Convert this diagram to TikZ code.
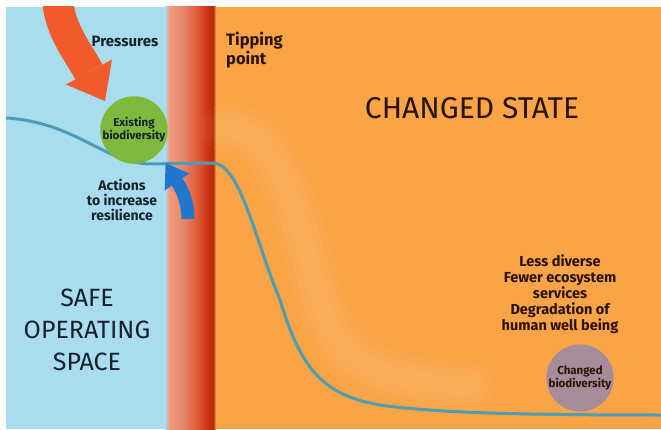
\documentclass[tikz,border=0pt]{standalone}
\usepackage{fontspec}
\setmainfont{Fira Sans}
\definecolor{skyb}{HTML}{A9DCEF}
\definecolor{orng}{HTML}{F9A446}
\definecolor{salA}{HTML}{F29A80}
\definecolor{salB}{HTML}{E5896C}
\definecolor{redA}{HTML}{E35A3A}
\definecolor{redB}{HTML}{C9330F}
\definecolor{redC}{HTML}{B82A06}
\definecolor{curvec}{HTML}{4E9DB5}
\definecolor{press}{HTML}{F15A2B}
\definecolor{actb}{HTML}{1F78CC}
\definecolor{greenc}{HTML}{7DB93C}
\definecolor{mauve}{HTML}{A88B9B}
\definecolor{inkb}{HTML}{16222C}
\definecolor{inko}{HTML}{2A1204}
\tikzset{
  lbl/.style={inner sep=0pt, align=center, font=\bfseries\fontsize{14}{15}\selectfont},
  biglbl/.style={inner sep=0pt, align=center},
  state/.style={circle, inner sep=0pt, minimum size=66pt, align=center,
     font=\bfseries\fontsize{11.5}{13}\selectfont},
  ghost/.style={white, opacity=0.035, line cap=round},
}
\begin{document}
\begin{tikzpicture}[x=1pt,y=-1pt]
\useasboundingbox (0,0) rectangle (661,430);
\fill[white] (0,0) rectangle (661,430);
\begin{scope}
\clip (6,7) rectangle (661,429);
% backgrounds
\fill[skyb] (6,7) rectangle (166,429);
\fill[orng] (215,7) rectangle (661,429);
\shade[left color=skyb, right color=salA] (165,7) rectangle (169,429);
\shade[left color=salA, right color=salB] (169,7) rectangle (182,429);
\shade[left color=salB, right color=redA] (182,7) rectangle (197,429);
\shade[left color=redA, right color=redB] (197,7) rectangle (208,429);
\shade[left color=redB, right color=redC] (208,7) rectangle (213,429);
\shade[left color=redC, right color=orng] (213,7) rectangle (216,429);
% faint ghost band
\foreach \w in {48,34,20}{
\draw[ghost, line width=\w pt]
  (225,128) .. controls (280,125) and (300,230) .. (320,300)
  .. controls (335,350) and (360,382) .. (470,386);
}
% curve
\draw[curvec, line width=3pt]
  (6,118) .. controls (75,122) and (105,163) .. (150,164) -- (212,163)
  .. controls (240,162) and (255,240) .. (280,300)
  .. controls (300,365) and (320,395) .. (380,405)
  .. controls (430,412) and (500,415) .. (661,415);
% pressures arrow
\coordinate (pstart) at (58,2);
\coordinate (pbase) at (89,72);
\draw[press, line width=31pt] (pstart) .. controls (60,30) and (78,52) .. (pbase);
\fill[press] (112,59.5) -- (66,84.5) -- (105,101) -- cycle;
% existing biodiversity
\node[state, fill=greenc, text=inkb] (exist) at (134,130) {Existing\\biodiversity};
% actions arrow
\coordinate (astart) at (188,219);
\coordinate (abase) at (177,182);
\draw[actb, line width=13pt] (astart) .. controls (188,205) and (184,192) .. (abase);
\fill[actb] (189.3,173.5) -- (164.7,190.5) -- (165.6,163) -- cycle;
% changed biodiversity
\node[state, fill=mauve, text=inko] (changed) at (580,378) {Changed\\biodiversity};
\end{scope}
% labels
\node[lbl, text=inkb, font=\bfseries\fontsize{15}{16}\selectfont] (pressures) at (125,41) {Pressures};
\node[lbl, text=inko, anchor=north west, align=left, font=\bfseries\fontsize{16.5}{19}\selectfont] (tipping) at (226,32) {Tipping\\point};
\node[biglbl, text=inko, font=\fontsize{30}{32}\selectfont] (cstate) at (472,108) {CHANGED STATE};
\node[lbl, text=inkb] (actions) at (122,200) {Actions\\to increase\\resilience};
\node[biglbl, text=inkb, font=\fontsize{25}{32}\selectfont] (safe) at (87,330) {SAFE\\OPERATING\\SPACE};
\node[lbl, text=inko, font=\bfseries\fontsize{14.5}{16}\selectfont] (less) at (560,294) {Less diverse\\Fewer ecosystem\\services\\Degradation of\\human well being};
\end{tikzpicture}
\end{document}
